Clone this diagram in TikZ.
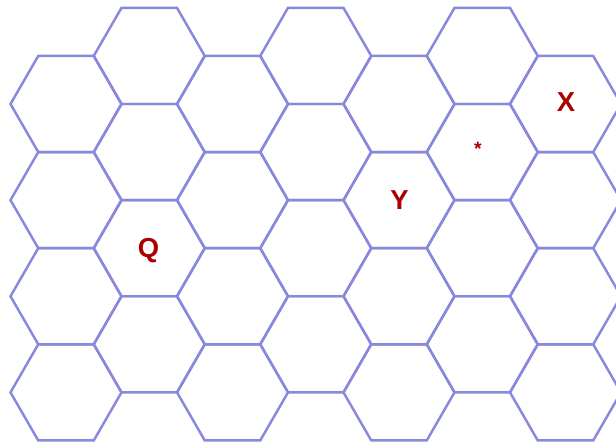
\documentclass[tikz,border=0pt]{standalone}
\usepackage{fontspec}
\setmainfont{Liberation Sans}
\definecolor{hexblue}{RGB}{136,136,221}
\definecolor{markred}{RGB}{170,0,0}

\begin{document}
\begin{tikzpicture}[x=0.02cm, y=-0.02cm,
    hexline/.style={draw=hexblue, line width=1.4pt, line join=miter},
    mark label/.style={text=markred, inner sep=0pt, text height=11.2pt, text depth=0pt,
        font=\fontsize{15.6}{18}\selectfont\bfseries},
    star label/.style={text=markred, inner sep=0pt, font=\fontsize{11}{13}\selectfont\bfseries}]

    % Fix the frame and cut the cells at its edge
    \useasboundingbox (0,0) rectangle (616,446);
    \clip (0,0) rectangle (616,446);
    % Draw the grid of hexagons, column by column
    \foreach \i in {0,...,6} {
        \foreach \j in {0,...,3} {
            \pgfmathsetmacro{\cx}{66+83.25*\i}
            \pgfmathsetmacro{\cy}{104+96.13*\j-48.07*mod(\i,2)}
            \draw[hexline] (\cx,\cy) +(0:55.5) -- +(60:55.5) -- +(120:55.5)
                -- +(180:55.5) -- +(240:55.5) -- +(300:55.5) -- cycle;
        }
    }
    % Labels in the cells
    \node[mark label] (q) at (148.5,247.5) {Q};
    \node[mark label] (y) at (399.5,199.5) {Y};
    \node[mark label] (x) at (566,101.5) {X};
    \node[star label] (star) at (478,149) {*};

\end{tikzpicture}
\end{document}
